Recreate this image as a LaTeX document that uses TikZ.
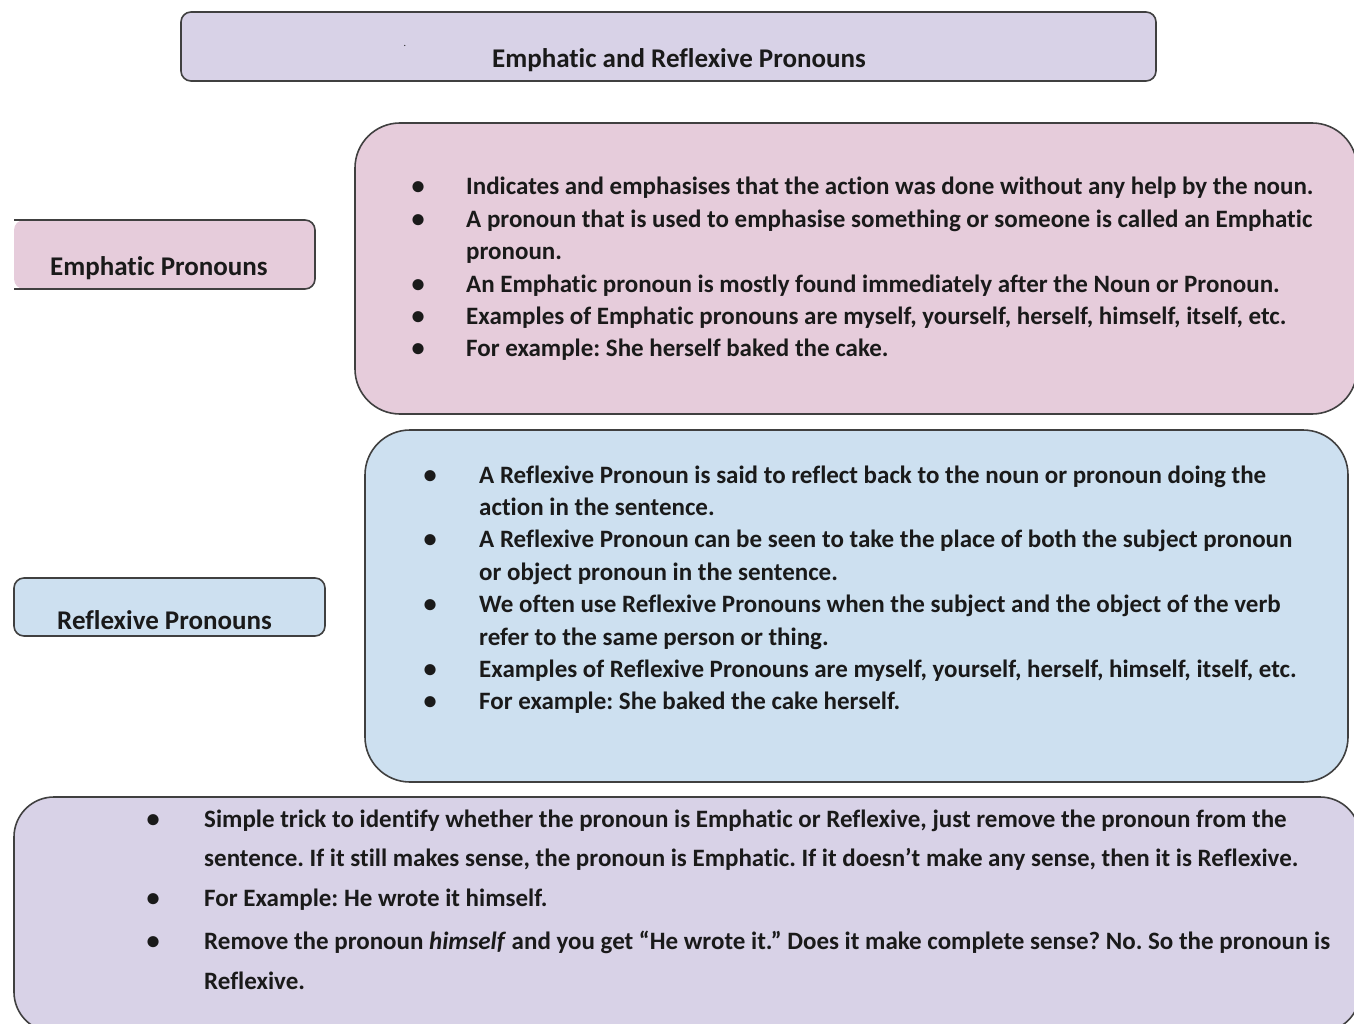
\documentclass[tikz,border=0pt]{standalone}
\usepackage{fontspec}
\setmainfont{Carlito}[Ligatures={NoCommon}]
\usepackage{array}
\definecolor{lav}{HTML}{D8D2E7}
\definecolor{pinkf}{HTML}{E6CCDB}
\definecolor{bluef}{HTML}{CDE0F0}
\definecolor{edge}{HTML}{404040}
\definecolor{ink}{HTML}{1A1A1A}
\newcommand{\bul}{\makebox[0pt]{\scalebox{1.05}{•}}}
\newcommand{\bodyfont}{\fontsize{25}{32.4}\selectfont\bfseries\frenchspacing}
\newcommand{\lowfont}{\fontsize{25}{39.5}\selectfont\bfseries\frenchspacing}
\begin{document}
\begin{tikzpicture}[x=1pt,y=-1pt,
  box/.style={draw=edge,line width=1.6pt},
  head/.style={font=\fontsize{27}{30}\selectfont\bfseries,text=ink,inner sep=0pt},
  body/.style={text=ink,inner sep=0pt,anchor=base west}]
\useasboundingbox (0,0) rectangle (1354,1024);
\clip (0,0) rectangle (1354,1024);
% boxes
\draw[box,fill=lav,rounded corners=10pt] (181,12) rectangle (1156,81);
\fill[pinkf,rounded corners=10pt] (14,220) -- (315,220) -- (315,289) -- (14,289) -- cycle;
\draw[box,rounded corners=10pt] (14,220) -- (315,220) -- (315,289) -- (14,289);
\draw[box,fill=bluef,rounded corners=10pt] (14,578) rectangle (325,636);
\draw[box,fill=pinkf,rounded corners=45pt] (355,123) rectangle (1357,414);
\draw[box,fill=bluef,rounded corners=45pt] (365,430) rectangle (1348,782);
\draw[box,fill=lav,rounded corners=40pt] (14,797) rectangle (1360,1032);
% headings
\node[head,anchor=base] (title) at (679,68) {Emphatic and Reflexive Pronouns};
\node[text=ink,inner sep=0pt,font=\fontsize{10}{12}\selectfont] (dot) at (405,46) {.};
\node[head,anchor=base west] (emph) at (50,276) {Emphatic Pronouns};
\node[head,anchor=base west] (refl) at (57,629) {Reflexive Pronouns};
% bodies
\node[body] (emphtext) at (418,195) {\bodyfont
\begin{tabular}[t]{@{}p{48pt}@{}l@{}}
\bul & Indicates and emphasises that the action was done without any help by the noun.\\
\bul & A pronoun that is used to emphasise something or someone is called an Emphatic\\
 & pronoun.\\
\bul & An Emphatic pronoun is mostly found immediately after the Noun or Pronoun.\\
\bul & Examples of Emphatic pronouns are myself, yourself, herself, himself, itself, etc.\\
\bul & For example: She herself baked the cake.
\end{tabular}};
\node[body] (refltext) at (430,483) {\bodyfont
\begin{tabular}[t]{@{}p{49pt}@{}l@{}}
\bul & A Reflexive Pronoun is said to reflect back to the noun or pronoun doing the\\
 & action in the sentence.\\
\bul & A Reflexive Pronoun can be seen to take the place of both the subject pronoun\\
 & or object pronoun in the sentence.\\
\bul & We often use Reflexive Pronouns when the subject and the object of the verb\\
 & refer to the same person or thing.\\
\bul & Examples of Reflexive Pronouns are myself, yourself, herself, himself, itself, etc.\\
\bul & For example: She baked the cake herself.
\end{tabular}};
\node[body] (tricktext) at (153,827) {\lowfont
\begin{tabular}[t]{@{}p{51pt}@{}l@{}}
\bul & Simple trick to identify whether the pronoun is Emphatic or Reflexive, just remove the pronoun from the\\
 & sentence. If it still makes sense, the pronoun is Emphatic. If it doesn’t make any sense, then it is Reflexive.\\
\bul & For Example: He wrote it himself.\\[4pt]
\bul & Remove the pronoun \textit{himself} and you get “He wrote it.” Does it make complete sense? No. So the pronoun is\\
 & Reflexive.
\end{tabular}};
\end{tikzpicture}
\end{document}
